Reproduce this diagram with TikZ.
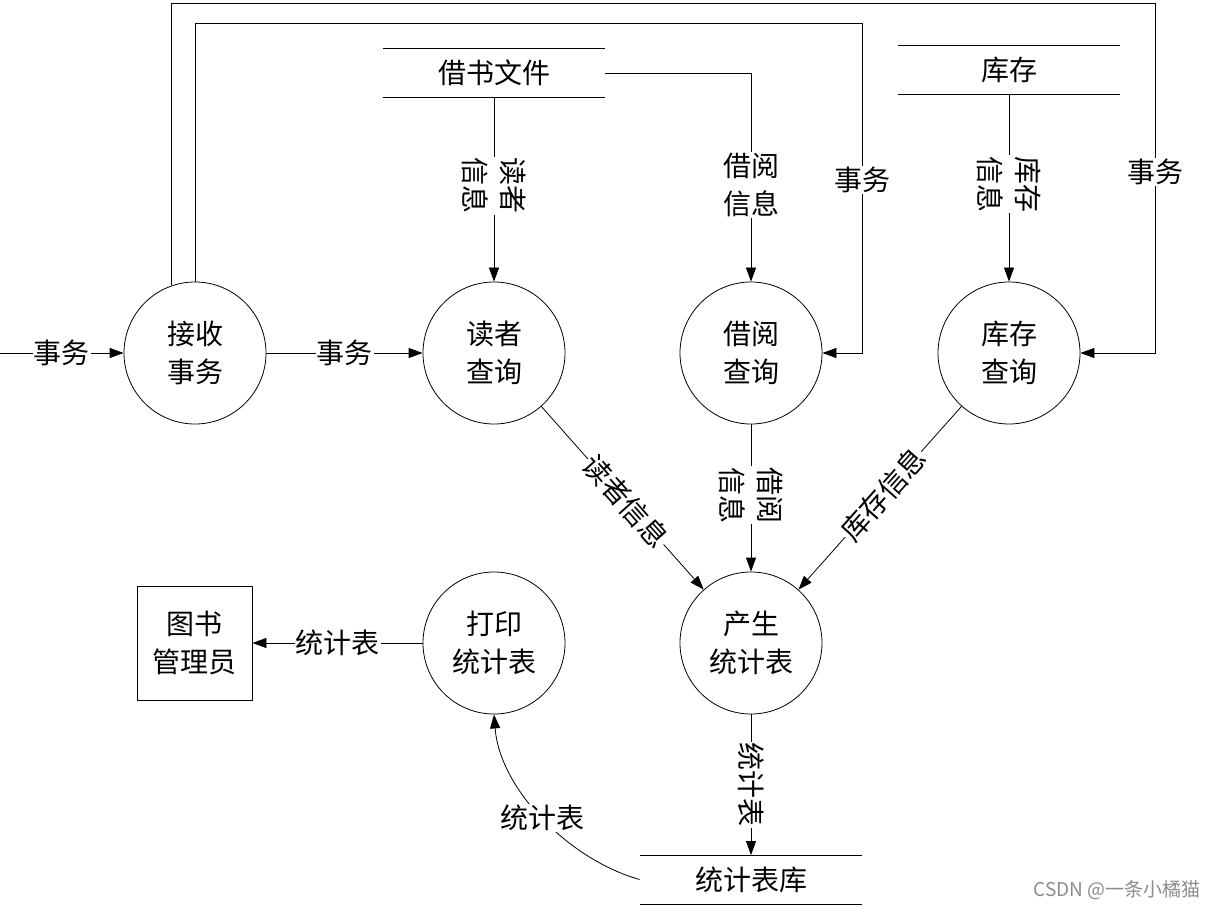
\documentclass[tikz,border=0pt]{standalone}
\usepackage{fontspec}
\setmainfont{Noto Sans CJK SC}
\usetikzlibrary{arrows.meta,calc}
\begin{document}
\begin{tikzpicture}[x=1pt,y=-1pt,
  line width=0.8pt,
  every node/.style={font=\fontsize{28}{38}\selectfont},
  proc/.style={draw,circle,minimum size=142pt,inner sep=0pt,align=center},
  ext/.style={draw,rectangle,minimum width=115pt,minimum height=114pt,inner sep=0pt,align=center},
  store/.style={minimum width=222pt,minimum height=48pt,inner sep=0pt},
  lbl/.style={fill=white,inner sep=1pt,align=center},
  arr/.style={-{Triangle[length=14pt,width=10pt]}}
]
\useasboundingbox (0,0) rectangle (1215,909);
% processes
\node[proc] (recv) at (195,353) {接收\\事务};
\node[proc] (rq) at (494,353) {读者\\查询};
\node[proc] (bq) at (751,353) {借阅\\查询};
\node[proc] (kq) at (1009,353) {库存\\查询};
\node[proc] (gen) at (751,643) {产生\\统计表};
\node[proc] (pq) at (494,643) {打印\\统计表};
\node[ext] (mgr) at (194.5,643) {图书\\管理员};
% data stores
\node[store] (ds1) at (494,73) {借书文件};
\node[store] (ds2) at (1009,70) {库存};
\node[store] (ds3) at (751,879.5) {统计表库};
\foreach \s in {ds1,ds2,ds3}{
  \draw (\s.north west) -- (\s.north east) (\s.south west) -- (\s.south east);
}
% coordinates
\coordinate (src) at (0,353);
\coordinate (t1) at (862,23);
\coordinate (t1b) at (862,353);
\coordinate (t2) at (1155,3);
\coordinate (t2b) at (1155,353);
% connectors
\draw[arr] (src) -- node[lbl,pos=0.5]{事务} (recv.west);
\draw[arr] (recv.east) -- node[lbl]{事务} (rq.west);
\draw[arr] (ds1.south) -- node[lbl,rotate=-90,pos=0.48]{读者\\信息} (rq.north);
\draw[arr] (ds1.east) -| node[lbl,pos=0.768]{借阅\\信息} (bq.north);
\draw[arr] (ds2.south) -- node[lbl,rotate=-90,pos=0.48]{库存\\信息} (kq.north);
\draw[arr] (recv.north) |- (t1) -- node[lbl,pos=0.476]{事务} (t1b) -- (bq.east);
\draw[arr] (recv.109) |- (t2) -- node[lbl,pos=0.483]{事务} (t2b) -- (kq.east);
\draw[arr] (rq) -- node[lbl,rotate=-48.4,pos=0.52]{读者信息} (gen);
\draw[arr] (bq.south) -- node[lbl,rotate=-90,pos=0.48]{借阅\\信息} (gen.north);
\draw[arr] (kq) -- node[lbl,rotate=48.4,pos=0.48]{库存信息} (gen);
\draw[arr] (gen.south) -- node[lbl,rotate=-90,pos=0.5]{统计表} (ds3.north);
\draw[arr] (ds3.west) .. controls (570,860) and (500,790) .. node[lbl,pos=0.5]{统计表} (pq.south);
\draw[arr] (pq.west) -- node[lbl,pos=0.5]{统计表} (mgr.east);
% watermark
\node[font=\fontsize{19}{22}\selectfont,text=black!45,anchor=east,inner sep=0pt] (wm) at (1201,890) {CSDN @一条小橘猫};
\end{tikzpicture}
\end{document}
